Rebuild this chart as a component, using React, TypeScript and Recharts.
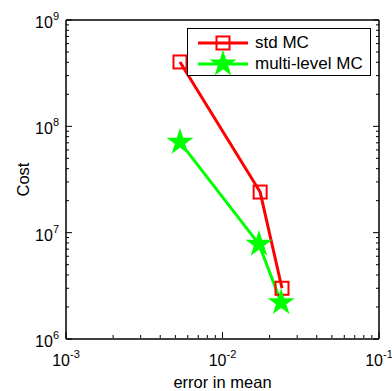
import React from "react";
import { LineChart, Line, XAxis, YAxis, Legend } from "recharts";

// error in mean vs cost
const errStd = [0.00535, 0.0174, 0.024];
const costStd = [4.03e8, 2.41e7, 3.0e6];
const errMl = [0.00535, 0.0171, 0.0237];
const costMl = [7.1e7, 7.8e6, 2.2e6];

const xMajor = [0.001, 0.01, 0.1];
const yMajor = [1e6, 1e7, 1e8, 1e9];
const minorSteps = [2, 3, 4, 5, 6, 7, 8, 9];

const seriesNames = ["std MC", "multi-level MC"];
const RED = "#ff0000";
const GREEN = "#00ff00";
const FONT = "'Liberation Sans', Arial, Helvetica, sans-serif";

const withMinor = (majors: number[]) =>
  [...majors, ...majors.slice(0, -1).flatMap((d) => minorSteps.map((k) => d * k))].sort((a, b) => a - b);

const xTicks = withMinor(xMajor);
const yTicks = withMinor(yMajor);

const stdData = errStd.map((x, i) => ({ x, y: costStd[i] }));
const mlData = errMl.map((x, i) => ({ x, y: costMl[i] }));

const exponent = (v: number) => Math.round(Math.log10(v));

const PowLabel = ({ x, y, v, anchor }: { x: number; y: number; v: number; anchor: "middle" | "end" }) => (
  <text x={x} y={y} textAnchor={anchor} fontSize={16} fill="#000" fontFamily={FONT}>
    <tspan>10</tspan>
    <tspan dy={-8} fontSize={11}>{exponent(v)}</tspan>
  </text>
);

const BottomTick = (props: any) => {
  const { x, y, payload } = props;
  const major = xMajor.includes(payload.value);
  const len = major ? 6 : 3;
  return (
    <g>
      <line x1={x} y1={y - 1} x2={x} y2={y - 1 - len} stroke="#000" />
      {major && <PowLabel x={x} y={y + 27} v={payload.value} anchor="middle" />}
    </g>
  );
};

const TopTick = (props: any) => {
  const { x, y, payload } = props;
  const len = xMajor.includes(payload.value) ? 6 : 3;
  return <line x1={x} y1={y} x2={x} y2={y + len} stroke="#000" />;
};

const LeftTick = (props: any) => {
  const { x, y, payload } = props;
  const major = yMajor.includes(payload.value);
  const len = major ? 6 : 3;
  return (
    <g>
      <line x1={x} y1={y} x2={x + len} y2={y} stroke="#000" />
      {major && <PowLabel x={x - 7} y={y + 8} v={payload.value} anchor="end" />}
    </g>
  );
};

const RightTick = (props: any) => {
  const { x, y, payload } = props;
  const len = yMajor.includes(payload.value) ? 6 : 3;
  return <line x1={x} y1={y} x2={x - len} y2={y} stroke="#000" />;
};

const Square = ({ cx, cy }: { cx: number; cy: number }) => (
  <rect x={cx - 6.5} y={cy - 6.5} width={13} height={13} fill="none" stroke={RED} strokeWidth={2} />
);

const starPoints = (cx: number, cy: number, r: number) => {
  const pts: string[] = [];
  for (let i = 0; i < 10; i++) {
    const rad = i % 2 === 0 ? r : r * 0.382;
    const a = -Math.PI / 2 + (i * Math.PI) / 5;
    pts.push(`${cx + rad * Math.cos(a)},${cy + rad * Math.sin(a)}`);
  }
  return pts.join(" ");
};

const Star = ({ cx, cy }: { cx: number; cy: number }) => (
  <polygon points={starPoints(cx, cy, 11)} fill={GREEN} stroke={GREEN} strokeWidth={2} strokeLinejoin="miter" />
);

const renderLegend = () => {
  const rows = [
    { name: seriesNames[0], color: RED, marker: <Square cx={25} cy={10} /> },
    { name: seriesNames[1], color: GREEN, marker: <Star cx={25} cy={10} /> },
  ];
  return (
    <div style={{ width: 184, height: 48, boxSizing: "border-box", border: "1.5px solid #000", background: "#fff", paddingTop: 3, fontFamily: FONT }}>
      {rows.map((r) => (
        <div key={r.name} style={{ display: "flex", alignItems: "center", height: 21 }}>
          <svg width={50} height={20} style={{ marginLeft: 10, overflow: "visible" }}>
            <line x1={0} y1={10} x2={50} y2={10} stroke={r.color} strokeWidth={3} />
            {r.marker}
          </svg>
          <span style={{ marginLeft: 7, fontSize: 17, color: "#000", whiteSpace: "nowrap" }}>{r.name}</span>
        </div>
      ))}
    </div>
  );
};

export default function App() {
  return (
    <div style={{ position: "absolute", left: 0, top: 0, width: 392, height: 391, background: "#fff", fontFamily: FONT }}>
      <LineChart width={392} height={391} margin={{ top: 19, right: 12, bottom: 51, left: 65 }}>
        <XAxis
          xAxisId="b"
          type="number"
          dataKey="x"
          scale="log"
          domain={[0.001, 0.1]}
          allowDataOverflow
          ticks={xTicks}
          interval={0}
          tick={BottomTick}
          tickLine={false}
          tickSize={0}
          tickMargin={0}
          height={1}
          axisLine={{ stroke: "#000", strokeWidth: 1.5 }}
          label={({ viewBox }: any) => (
            <text x={viewBox.x + viewBox.width / 2} y={viewBox.y + 49} textAnchor="middle" fontSize={16.5} fill="#000" fontFamily={FONT}>
              error in mean
            </text>
          )}
        />
        <XAxis
          xAxisId="t"
          orientation="top"
          type="number"
          scale="log"
          domain={[0.001, 0.1]}
          allowDataOverflow
          ticks={xTicks}
          interval={0}
          tick={TopTick}
          tickLine={false}
          tickSize={0}
          tickMargin={0}
          height={1}
          axisLine={{ stroke: "#000", strokeWidth: 1.5 }}
        />
        <YAxis
          yAxisId="l"
          type="number"
          dataKey="y"
          scale="log"
          domain={[1e6, 1e9]}
          allowDataOverflow
          ticks={yTicks}
          interval={0}
          tick={LeftTick}
          tickLine={false}
          tickSize={0}
          tickMargin={0}
          width={1}
          axisLine={{ stroke: "#000", strokeWidth: 1.5 }}
          label={({ viewBox }: any) => (
            <text
              x={29}
              y={viewBox.y + viewBox.height / 2}
              transform={`rotate(-90, 29, ${viewBox.y + viewBox.height / 2})`}
              textAnchor="middle"
              fontSize={16.5}
              fill="#000"
              fontFamily={FONT}
            >
              Cost
            </text>
          )}
        />
        <YAxis
          yAxisId="r"
          orientation="right"
          type="number"
          scale="log"
          domain={[1e6, 1e9]}
          allowDataOverflow
          ticks={yTicks}
          interval={0}
          tick={RightTick}
          tickLine={false}
          tickSize={0}
          tickMargin={0}
          width={1}
          axisLine={{ stroke: "#000", strokeWidth: 1.5 }}
        />
        <Line
          xAxisId="b"
          yAxisId="l"
          data={stdData}
          dataKey="y"
          name={seriesNames[0]}
          stroke={RED}
          strokeWidth={3}
          isAnimationActive={false}
          dot={(p: any) => <Square key={`s${p.index}`} cx={p.cx} cy={p.cy} />}
        />
        <Line
          xAxisId="b"
          yAxisId="l"
          data={mlData}
          dataKey="y"
          name={seriesNames[1]}
          stroke={GREEN}
          strokeWidth={3}
          isAnimationActive={false}
          dot={(p: any) => <Star key={`m${p.index}`} cx={p.cx} cy={p.cy} />}
        />
        <Legend
          layout="horizontal"
          verticalAlign="middle"
          align="center"
          wrapperStyle={{ left: 187, top: 28, width: 184, height: 48 }}
          content={renderLegend}
        />
      </LineChart>
    </div>
  );
}
